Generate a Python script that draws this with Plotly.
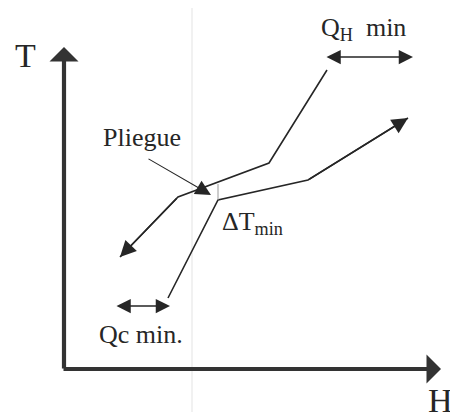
import plotly.graph_objects as go

# Composite curves (H = enthalpy, T = temperature), arbitrary units
hot_H = [263, 205, 114, 56]
hot_T = [299, 206, 172, 112]
cold_H = [104, 154, 244, 344]
cold_T = [71, 169, 189, 251]

# Axis extents
axis_H_end = 377
axis_T_end = 322

# Pinch / Delta T min marker
pinch_H = [154, 154]
pinch_T = [169, 185]

# Pliegue pointer (from label to pinch)
pliegue_from = (83, 211)
pliegue_to = (147, 174)

# Utility double arrows
qh_H = [261, 349]
qh_T = 312
qc_H = [51, 106]
qc_T = 63

# Labels
labels = {
    "T": (-39, 314),
    "H": (376, -31),
    "Pliegue": (78, 232),
    "ΔT<sub>min</sub>": (188, 146),
    "Q<sub>H</sub>&nbsp;&nbsp;min": (299, 340),
    "Qc min.": (77, 35),
}

INK = "#262626"
AXIS_INK = "#333333"
FONT = "Liberation Serif"

fig = go.Figure()

# scan fold (faint)
fig.add_shape(type="line", xref="x", yref="paper", x0=128, x1=128, y0=0, y1=1,
              line=dict(color="#f1f1f1", width=2), layer="below")

fig.add_trace(go.Scatter(x=hot_H, y=hot_T, mode="lines",
                         line=dict(color=INK, width=1.6), hoverinfo="skip"))
fig.add_trace(go.Scatter(x=cold_H, y=cold_T, mode="lines",
                         line=dict(color=INK, width=1.6), hoverinfo="skip"))
fig.add_trace(go.Scatter(x=pinch_H, y=pinch_T, mode="lines",
                         line=dict(color="#9a9a9a", width=1), hoverinfo="skip"))

ann = []
# axes
ann.append(dict(x=0, y=axis_T_end, ax=0, ay=-1, xref="x", yref="y", axref="x", ayref="y",
                text="", showarrow=True, arrowhead=1, arrowwidth=4.2, arrowsize=1.15,
                arrowcolor=AXIS_INK))
ann.append(dict(x=axis_H_end, y=0, ax=-2, ay=0, xref="x", yref="y", axref="x", ayref="y",
                text="", showarrow=True, arrowhead=1, arrowwidth=4.2, arrowsize=1.15,
                arrowcolor=AXIS_INK))
# curve arrowheads
ann.append(dict(x=hot_H[-1], y=hot_T[-1], ax=hot_H[-2], ay=hot_T[-2], xref="x", yref="y",
                axref="x", ayref="y", text="", showarrow=True, arrowhead=2,
                arrowwidth=1.6, arrowsize=2.0, arrowcolor=INK))
ann.append(dict(x=cold_H[-1], y=cold_T[-1], ax=cold_H[-2], ay=cold_T[-2], xref="x", yref="y",
                axref="x", ayref="y", text="", showarrow=True, arrowhead=2,
                arrowwidth=1.6, arrowsize=2.0, arrowcolor=INK))
# double arrows
ann.append(dict(x=qh_H[1], y=qh_T, ax=qh_H[0], ay=qh_T, xref="x", yref="y",
                axref="x", ayref="y", text="", showarrow=True, arrowhead=2,
                arrowside="end+start", arrowwidth=1.5, arrowsize=1.9, arrowcolor=INK))
ann.append(dict(x=qc_H[1], y=qc_T, ax=qc_H[0], ay=qc_T, xref="x", yref="y",
                axref="x", ayref="y", text="", showarrow=True, arrowhead=2,
                arrowside="end+start", arrowwidth=1.5, arrowsize=1.9, arrowcolor=INK))
# pliegue pointer
ann.append(dict(x=pliegue_to[0], y=pliegue_to[1], ax=pliegue_from[0], ay=pliegue_from[1],
                xref="x", yref="y", axref="x", ayref="y", text="", showarrow=True,
                arrowhead=2, arrowwidth=1.1, arrowsize=2.8, arrowcolor=INK))

for txt, (hx, ty) in labels.items():
    size = 34 if txt in ("T", "H") else 26
    ann.append(dict(x=hx, y=ty, xref="x", yref="y", text=txt, showarrow=False,
                    xanchor="center", yanchor="middle",
                    font=dict(family=FONT, size=size, color=INK)))

# page body has an 8px margin, so the figure is 8px smaller and ranges start 8px in
fig.update_layout(
    width=450, height=404, autosize=False,
    margin=dict(l=0, r=0, t=0, b=0, pad=0),
    paper_bgcolor="white", plot_bgcolor="white",
    showlegend=False,
    xaxis=dict(range=[-56, 394], visible=False, fixedrange=True),
    yaxis=dict(range=[-43, 361], visible=False, fixedrange=True),
    annotations=ann,
)

fig.write_html("out.html", config={"displayModeBar": False})
